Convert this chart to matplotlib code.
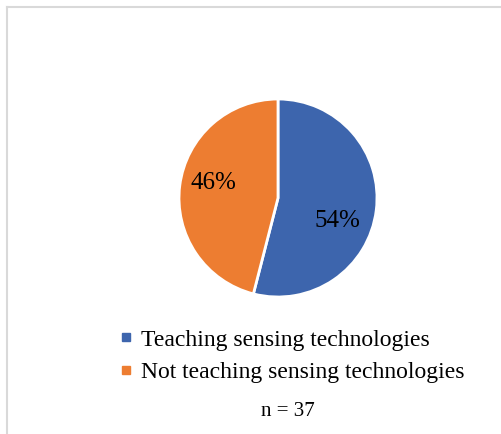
import matplotlib
matplotlib.use("Agg")
import matplotlib.pyplot as plt
import numpy as np
from matplotlib.lines import Line2D

categories = ["Teaching sensing technologies", "Not teaching sensing technologies"]
values = [54, 46]
colors = ["#3D65AD", "#ED7D31"]
note = "n = 37"

plt.rcParams['font.family'] = ['Liberation Serif', 'DejaVu Serif']

W, H = 501, 434
fig = plt.figure(figsize=(W/100, H/100), dpi=100)

# border (left & top visible)
fig.add_artist(Line2D([6.5/W, 6.5/W], [0, 1 - 6.5/H], color="#d9d9d9", lw=1.5, transform=fig.transFigure))
fig.add_artist(Line2D([6.5/W, 1], [1 - 6.5/H, 1 - 6.5/H], color="#d9d9d9", lw=1.5, transform=fig.transFigure))

cx, cy, r = 278, 198, 99
ax = fig.add_axes([(cx - r)/W, (H - cy - r)/H, 2*r/W, 2*r/H])
wedges, texts, autotexts = ax.pie(values, colors=colors, startangle=90, counterclock=False,
                                  autopct=lambda p: f"{p:.0f}%", pctdistance=0.66,
                                  wedgeprops=dict(edgecolor="white", linewidth=2),
                                  textprops=dict(fontsize=18, color="black"))
# Excel-like label placement (angle shift in degrees, radius fraction)
label_shift = [(-14, 0.64), (-6, 0.67)]
for w, t, (dth, rr) in zip(wedges, autotexts, label_shift):
    th = np.deg2rad((w.theta1 + w.theta2) / 2 + dth)
    t.set_position((rr * np.cos(th), rr * np.sin(th)))
ax.set_xlim(-1.0, 1.0)
ax.set_ylim(-1.0, 1.0)
ax.set_aspect("equal")
ax.axis("off")

handles = [Line2D([0], [0], marker="s", color="none", markerfacecolor=c, markeredgecolor=c,
                  markersize=6) for c in colors]
fig.legend(handles, categories, loc="upper left", bbox_to_anchor=(120/W, 1 - 329/H),
           frameon=False, fontsize=17, handlelength=0.55, handletextpad=0.35,
           labelspacing=0.47, borderpad=0, borderaxespad=0)

fig.text(288/W, 1 - 411/H, note, ha="center", va="center", fontsize=15)

fig.savefig("out.png", dpi=100)
